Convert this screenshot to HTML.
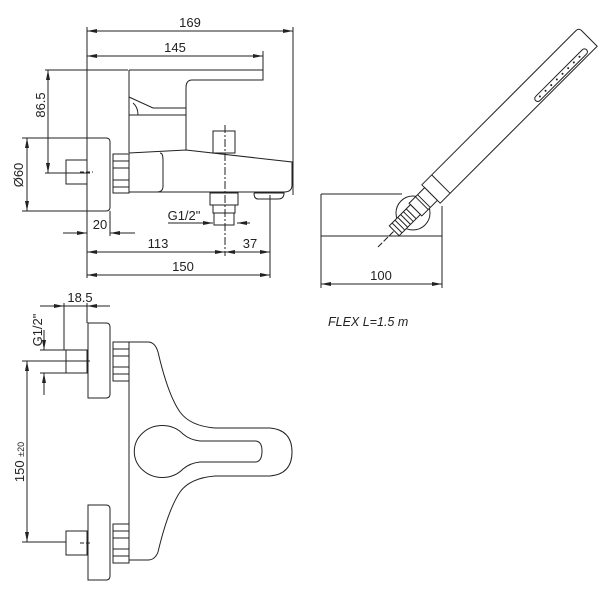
<!DOCTYPE html>
<html><head><meta charset="utf-8"><style>
html,body{margin:0;padding:0;background:#fff}
svg{display:block}
text{font-family:"Liberation Sans",sans-serif;fill:#222}
</style></head><body>
<svg width="609" height="595" viewBox="0 0 609 595" xmlns="http://www.w3.org/2000/svg">
<defs>
<marker id="a" viewBox="0 0 10 4" refX="10" refY="2" markerWidth="10" markerHeight="4" orient="auto-start-reverse" markerUnits="userSpaceOnUse"><path d="M0,0 L10,2 L0,4 z" fill="#222"/></marker>
</defs>
<g stroke="#222" stroke-width="1" fill="none">
<line x1="87" y1="27" x2="87" y2="278"/>
<line x1="293" y1="27" x2="293" y2="195"/>
<line x1="87" y1="31" x2="293" y2="31" marker-start="url(#a)" marker-end="url(#a)"/>
<line x1="263" y1="51" x2="263" y2="70"/>
<line x1="87" y1="56" x2="263" y2="56" marker-start="url(#a)" marker-end="url(#a)"/>
<line x1="45" y1="70" x2="128" y2="70"/>
<line x1="45" y1="173" x2="90" y2="173"/>
<line x1="48" y1="70" x2="48" y2="173" marker-start="url(#a)" marker-end="url(#a)"/>
<line x1="22" y1="138" x2="105" y2="138"/>
<line x1="22" y1="211" x2="105" y2="211"/>
<line x1="27" y1="138" x2="27" y2="211" marker-start="url(#a)" marker-end="url(#a)"/>
<line x1="110" y1="211" x2="110" y2="236"/>
<line x1="63" y1="233" x2="87" y2="233" marker-end="url(#a)"/>
<line x1="135" y1="233" x2="110" y2="233" marker-end="url(#a)"/>
<line x1="270" y1="195" x2="270" y2="278"/>
<line x1="225" y1="125" x2="225" y2="256" stroke-dasharray="8,2,2,2"/>
<line x1="87" y1="252" x2="225" y2="252" marker-start="url(#a)" marker-end="url(#a)"/>
<line x1="225" y1="252" x2="270" y2="252" marker-start="url(#a)" marker-end="url(#a)"/>
<line x1="87" y1="275" x2="270" y2="275" marker-start="url(#a)" marker-end="url(#a)"/>
<line x1="168" y1="223" x2="213" y2="223"/>
<line x1="200" y1="223" x2="213" y2="223" marker-end="url(#a)"/>
<line x1="250" y1="223" x2="237" y2="223" marker-end="url(#a)"/>
<path d="M129,70 H263 V80 H192 Q186,80 186,88 V150"/>
<path d="M129,70 V153"/>
<path d="M129,97 L153,108 H186"/>
<path d="M133,103 Q138,107 138,115"/>
<line x1="129" y1="115" x2="186" y2="115"/>
<path d="M129,153 L186,150 L292,162 V185 Q292,192 284,192 H129"/>
<path d="M160,153 Q163,153 163,160 V186 Q163,192 157,192"/>
<rect x="213" y="131" width="22" height="22"/>
<rect x="113" y="154" width="16" height="39"/>
<line x1="113" y1="161" x2="129" y2="161"/><line x1="113" y1="168" x2="129" y2="168"/><line x1="113" y1="180" x2="129" y2="180"/><line x1="113" y1="187" x2="129" y2="187"/>
<path d="M87,138 H106 Q110,138 110,142 V207 Q110,211 106,211 H87"/>
<rect x="66" y="160" width="21" height="24"/>
<line x1="80" y1="172" x2="93" y2="172" stroke-dasharray="4,2"/>
<rect x="210" y="193" width="28" height="12"/>
<rect x="213" y="205" width="22" height="8"/>
<rect x="214" y="213" width="20" height="12"/>
<path d="M254,193 H284 Q284,199 278,199 H258 Q254,199 254,193"/>
<line x1="265" y1="199" x2="275" y2="199"/>
<line x1="40" y1="306" x2="64" y2="306" marker-end="url(#a)"/>
<line x1="110" y1="306" x2="87" y2="306" marker-end="url(#a)"/>
<line x1="64" y1="306" x2="87" y2="306"/>
<line x1="64" y1="303" x2="64" y2="350"/>
<line x1="87" y1="303" x2="87" y2="323"/>
<line x1="40" y1="350" x2="66" y2="350"/>
<line x1="40" y1="373" x2="66" y2="373"/>
<line x1="44" y1="330" x2="44" y2="350" marker-end="url(#a)"/>
<line x1="44" y1="395" x2="44" y2="373" marker-end="url(#a)"/>
<line x1="22" y1="361" x2="90" y2="361"/>
<line x1="27" y1="361" x2="27" y2="542" marker-start="url(#a)" marker-end="url(#a)"/>
<line x1="22" y1="542" x2="66" y2="542"/>
<path d="M88,323 H106 Q110,323 110,327 V394 Q110,398 106,398 H88 Z"/>
<rect x="113" y="342" width="16" height="39"/>
<line x1="113" y1="349" x2="129" y2="349"/><line x1="113" y1="356" x2="129" y2="356"/><line x1="113" y1="367" x2="129" y2="367"/><line x1="113" y1="374" x2="129" y2="374"/>
<rect x="66" y="350" width="21" height="23"/>
<line x1="80" y1="361" x2="92" y2="361" stroke-dasharray="4,2"/>
<path d="M88,505 H106 Q110,505 110,509 V576 Q110,580 106,580 H88 Z"/>
<rect x="113" y="524" width="16" height="39"/>
<line x1="113" y1="531" x2="129" y2="531"/><line x1="113" y1="538" x2="129" y2="538"/><line x1="113" y1="549" x2="129" y2="549"/><line x1="113" y1="556" x2="129" y2="556"/>
<rect x="66" y="531" width="21" height="24"/>
<line x1="80" y1="543" x2="92" y2="543" stroke-dasharray="4,2"/>
<path d="M129,342 H148 Q155,342 158,352 Q168,395 180,412 Q190,426 215,428 H270 Q292,430 292,452 Q292,474 270,476 H215 Q190,478 180,492 Q168,510 158,552 Q155,560 148,560 H129 Z"/>
<path d="M183,434 Q190,440 200,441 H255 Q262,441 262,451 Q262,462 255,462 H200 Q190,463 183,469 A28,26 0 1 1 183,434 Z"/>
<path d="M321,194 H402 M321,194 V236 H442 V206"/>
<line x1="321" y1="236" x2="321" y2="288"/>
<line x1="442" y1="236" x2="442" y2="288"/>
<line x1="321" y1="284" x2="442" y2="284" marker-start="url(#a)" marker-end="url(#a)"/>
<circle cx="413" cy="213" r="17" fill="#fff"/>
<g transform="translate(431,194) rotate(-45)">
<path d="M0,-13 H218 Q222,-13 222,-9 V13 H0 Z" fill="#fff"/>
<line x1="14" y1="-13" x2="14" y2="13"/>
<rect x="140" y="5" width="72" height="6" rx="3"/>
<rect x="-22" y="-9" width="22" height="18" fill="#fff"/>
<line x1="-13" y1="-9" x2="-13" y2="9"/>
<line x1="-10" y1="-9" x2="-10" y2="9"/>
<rect x="-52" y="-7" width="30" height="14" fill="#fff"/>
<line x1="-48" y1="-7" x2="-48" y2="7"/><line x1="-44" y1="-7" x2="-44" y2="7"/><line x1="-40" y1="-7" x2="-40" y2="7"/><line x1="-36" y1="-7" x2="-36" y2="7"/><line x1="-32" y1="-7" x2="-32" y2="7"/><line x1="-28" y1="-7" x2="-28" y2="7"/>
<line x1="-75" y1="0" x2="-52" y2="0" stroke-dasharray="6,2"/>
</g>
</g>
<g fill="#222">
<g transform="translate(431,194) rotate(-45)"><circle cx="146" cy="8" r="1"/><circle cx="154" cy="8" r="1"/><circle cx="162" cy="8" r="1"/><circle cx="170" cy="8" r="1"/><circle cx="178" cy="8" r="1"/><circle cx="186" cy="8" r="1"/><circle cx="194" cy="8" r="1"/><circle cx="202" cy="8" r="1"/></g>
</g>
<g font-size="13">
<text x="190" y="27" text-anchor="middle">169</text>
<text x="175" y="52" text-anchor="middle">145</text>
<text x="45" y="105" text-anchor="middle" transform="rotate(-90 45 105)">86.5</text>
<text x="23" y="175" text-anchor="middle" transform="rotate(-90 23 175)">Ø60</text>
<text x="100" y="229" text-anchor="middle">20</text>
<text x="184" y="220" text-anchor="middle">G1/2"</text>
<text x="158" y="248" text-anchor="middle">113</text>
<text x="250" y="248" text-anchor="middle">37</text>
<text x="183" y="271" text-anchor="middle">150</text>
<text x="80" y="302" text-anchor="middle">18.5</text>
<text x="42" y="330" text-anchor="middle" transform="rotate(-90 42 330)">G1/2"</text>
<text x="24" y="462" text-anchor="middle" transform="rotate(-90 24 462)">150 <tspan font-size="9">±20</tspan></text>
<text x="381" y="280" text-anchor="middle">100</text>
<text x="328" y="326" font-style="italic" font-size="12.5">FLEX  L=1.5  m</text>
</g>
</svg>
</body></html>
